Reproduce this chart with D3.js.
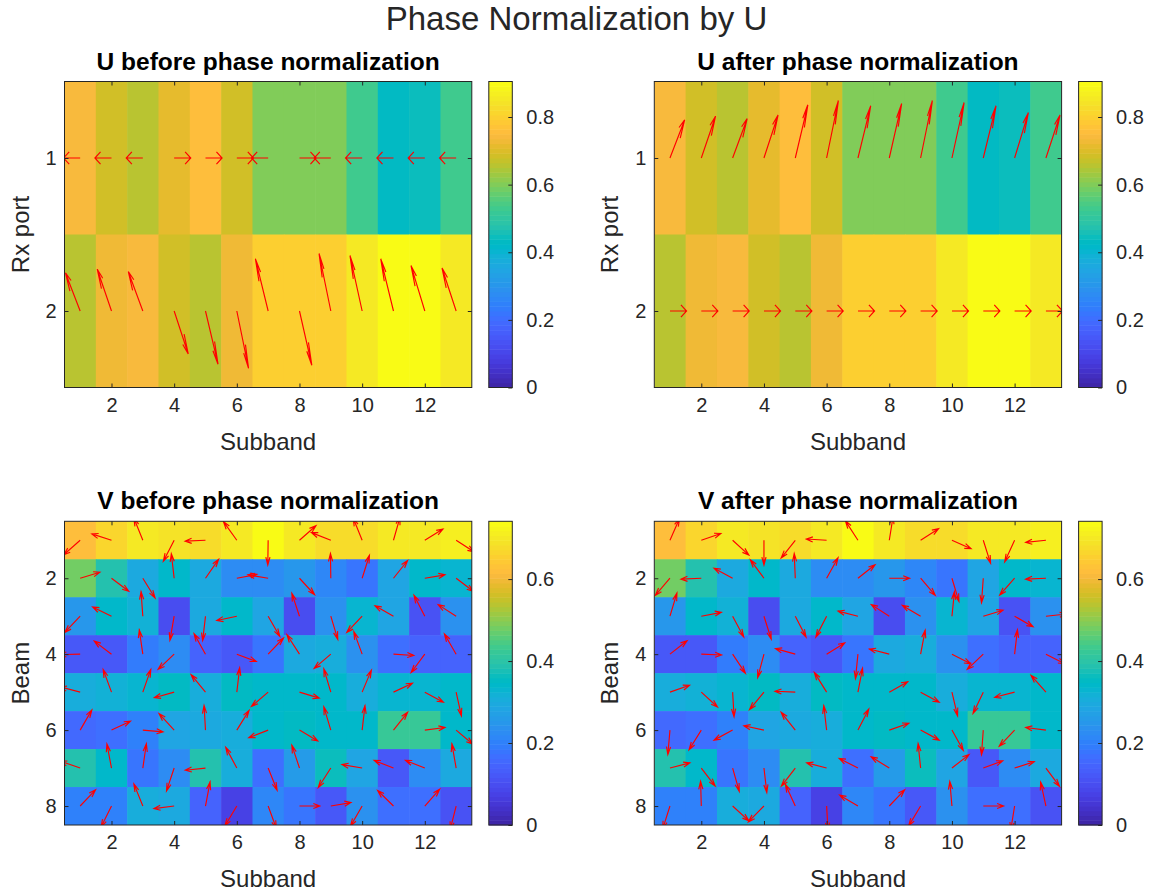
<!DOCTYPE html>
<html><head><meta charset="utf-8">
<script src="https://cdn.jsdelivr.net/npm/d3@7"></script>
<style>body{margin:0;background:#fff;} svg{display:block;font-family:"Liberation Sans",Arial,Helvetica,sans-serif;}</style>
</head><body><svg id="fig" width="1153" height="894"></svg>
<script>
// ---------------- data ----------------
const subbands = [1,2,3,4,5,6,7,8,9,10,11,12,13];
const xTickValues = [2,4,6,8,10,12];
const rxPorts = [1,2];
const beams = [1,2,3,4,5,6,7,8];
const uYTickValues = [1,2];
const vYTickValues = [2,4,6,8];
const uColorbarTicks = [0,0.2,0.4,0.6,0.8];
const vColorbarTicks = [0,0.2,0.4,0.6];

// |U| per Rx port (rows) and subband (cols)
const uMagnitude = [
  [0.742,0.686,0.658,0.720,0.756,0.686,0.608,0.608,0.595,0.530,0.435,0.440,0.530],
  [0.658,0.728,0.742,0.686,0.655,0.725,0.800,0.800,0.800,0.850,0.905,0.905,0.855]
];
// |V| per beam (rows) and subband (cols)
const vMagnitude = [
  [0.620,0.670,0.695,0.690,0.678,0.700,0.741,0.700,0.677,0.675,0.700,0.700,0.710],
  [0.475,0.387,0.300,0.342,0.295,0.230,0.230,0.250,0.214,0.185,0.284,0.340,0.330],
  [0.250,0.342,0.318,0.100,0.300,0.342,0.280,0.100,0.240,0.335,0.280,0.110,0.237],
  [0.120,0.116,0.190,0.220,0.145,0.120,0.185,0.300,0.312,0.237,0.168,0.150,0.145],
  [0.307,0.324,0.335,0.353,0.312,0.353,0.347,0.342,0.342,0.312,0.335,0.335,0.342],
  [0.156,0.168,0.203,0.284,0.300,0.312,0.342,0.353,0.347,0.342,0.417,0.417,0.342],
  [0.388,0.342,0.180,0.231,0.393,0.307,0.168,0.260,0.359,0.284,0.116,0.226,0.295],
  [0.197,0.197,0.307,0.300,0.150,0.070,0.214,0.180,0.116,0.243,0.168,0.168,0.110]
];
// phase angles (degrees, counter-clockwise as seen on screen)
const uPhaseBefore = [
  [180,180,180,0,0,0,180,0,180,180,180,180,180],
  [152,149,151,-32,-41,-45,140,-42,135,137,140,146,148]
];
const uPhaseAfter = [
  [28,31,29,32,41,45,40,42,45,43,40,34,32],
  [0,0,0,0,0,0,0,0,0,0,0,0,0]
];
const vPhaseBefore = [
  [-144,165,116,-122,182,131,-91,36,162,116,71,27,-28],
  [14,-32,-53,98,50,9,172,-42,91,69,46,8,-32],
  [-139,158,95,-102,-98,-170,-55,112,-70,-139,155,122,152],
  [181,148,100,-142,124,-17,41,128,-145,114,-3,-132,125],
  [168,114,67,-167,135,82,-145,-14,110,63,21,-24,-75],
  [55,21,-4,138,94,53,-162,-26,110,82,46,6,-35],
  [164,103,80,-112,-175,123,-64,112,-128,172,162,162,102],
  [41,-121,116,-174,77,-126,-66,0,8,-125,141,43,-107]
];
const vPhaseAfter = [
  [62,16,-37,-90,-134,177,128,79,28,-20,-69,-119,-175],
  [-136,-178,156,132,93,56,33,0,-44,-70,-95,-137,-178],
  [70,9,-57,-69,-58,-122,168,152,154,83,14,-25,5],
  [33,-2,-51,-108,167,27,-97,168,77,-23,-142,82,-23],
  [16,-37,-86,-135,178,127,77,25,-24,-74,-120,-168,137],
  [-96,-127,-156,170,134,98,58,16,-24,-56,-95,-139,174],
  [12,-47,-71,-82,-133,168,157,153,97,33,17,15,-48],
  [-111,92,-37,-140,119,-86,154,41,-126,96,0,-101,105]
];

// parula colormap (64 entries)
const PARULA = [[0.2422,0.1504,0.6603],[0.2504,0.1650,0.7076],[0.2578,0.1818,0.7511],[0.2647,0.1978,0.7952],[0.2706,0.2147,0.8364],[0.2751,0.2342,0.8710],[0.2783,0.2559,0.8991],[0.2803,0.2782,0.9221],[0.2813,0.3006,0.9414],[0.2810,0.3228,0.9579],[0.2795,0.3447,0.9717],[0.2760,0.3667,0.9829],[0.2699,0.3892,0.9906],[0.2602,0.4123,0.9952],[0.2440,0.4358,0.9988],[0.2206,0.4603,0.9973],[0.1963,0.4847,0.9892],[0.1834,0.5074,0.9798],[0.1786,0.5289,0.9682],[0.1764,0.5499,0.9520],[0.1687,0.5703,0.9359],[0.1540,0.5902,0.9218],[0.1460,0.6091,0.9079],[0.1380,0.6276,0.8973],[0.1248,0.6459,0.8883],[0.1113,0.6635,0.8763],[0.0952,0.6798,0.8598],[0.0689,0.6948,0.8394],[0.0297,0.7082,0.8163],[0.0036,0.7203,0.7917],[0.0067,0.7312,0.7660],[0.0433,0.7411,0.7394],[0.0964,0.7500,0.7120],[0.1408,0.7584,0.6842],[0.1717,0.7670,0.6554],[0.1938,0.7758,0.6251],[0.2161,0.7843,0.5923],[0.2470,0.7918,0.5567],[0.2906,0.7973,0.5188],[0.3406,0.8008,0.4789],[0.3909,0.8029,0.4354],[0.4456,0.8024,0.3909],[0.5044,0.7993,0.3480],[0.5616,0.7942,0.3045],[0.6174,0.7876,0.2612],[0.6720,0.7793,0.2227],[0.7242,0.7698,0.1910],[0.7738,0.7598,0.1646],[0.8203,0.7498,0.1535],[0.8634,0.7406,0.1596],[0.9035,0.7330,0.1774],[0.9393,0.7288,0.2100],[0.9728,0.7298,0.2394],[0.9956,0.7434,0.2371],[0.9970,0.7659,0.2199],[0.9952,0.7893,0.2028],[0.9892,0.8136,0.1885],[0.9786,0.8386,0.1766],[0.9676,0.8639,0.1643],[0.9610,0.8890,0.1537],[0.9597,0.9135,0.1423],[0.9628,0.9373,0.1265],[0.9691,0.9606,0.1064],[0.9769,0.9839,0.0805]];

// ---------------- drawing ----------------
const svg = d3.select("#fig");
const AX = "#262626";
const FS_TICK = 20, FS_LABEL = 24, FS_TITLE = 24.5, FS_SUP = 33;

function cmapColor(t){
  const i = Math.max(0, Math.min(63, Math.floor(t*64)));
  const c = PARULA[i];
  return d3.rgb(c[0]*255, c[1]*255, c[2]*255).formatHex();
}

const panels = [
  {title:"U before phase normalization", left:64.5, top:81.5, height:306, mags:uMagnitude, phases:uPhaseBefore, rows:rxPorts, yTicks:uYTickValues, ylabel:"Rx port", cTicks:uColorbarTicks, L:0.53, alpha:0.34, beta:0.22},
  {title:"U after phase normalization", left:654.3, top:81.5, height:306, mags:uMagnitude, phases:uPhaseAfter, rows:rxPorts, yTicks:uYTickValues, ylabel:"Rx port", cTicks:uColorbarTicks, L:0.53, alpha:0.34, beta:0.22},
  {title:"V before phase normalization", left:64.5, top:521.3, height:303.7, mags:vMagnitude, phases:vPhaseBefore, rows:beams, yTicks:vYTickValues, ylabel:"Beam", cTicks:vColorbarTicks, L:0.65, alpha:0.32, beta:0.32},
  {title:"V after phase normalization", left:654.3, top:521.3, height:303.7, mags:vMagnitude, phases:vPhaseAfter, rows:beams, yTicks:vYTickValues, ylabel:"Beam", cTicks:vColorbarTicks, L:0.65, alpha:0.32, beta:0.32}
];
const PW = 407.3;

svg.append("text").attr("x", 576.5).attr("y", 30).attr("text-anchor","middle")
  .attr("font-size", FS_SUP).attr("fill", AX).text("Phase Normalization by U");

panels.forEach((p, pi) => {
  const g = svg.append("g");
  const cmax = d3.max(p.mags.flat());
  const x = d3.scaleLinear().domain([0.5, subbands.length + 0.5]).range([p.left, p.left + PW]);
  const y = d3.scaleLinear().domain([0.5, p.rows.length + 0.5]).range([p.top, p.top + p.height]);
  const clipId = "clip" + pi;
  svg.append("defs").append("clipPath").attr("id", clipId).append("rect")
    .attr("x", p.left).attr("y", p.top).attr("width", PW).attr("height", p.height);

  const cells = p.mags.flatMap((row, ri) => row.map((v, ci) => ({r: p.rows[ri], c: subbands[ci], v, ph: p.phases[ri][ci]})));
  const plot = g.append("g").attr("clip-path", `url(#${clipId})`);
  plot.selectAll("rect.cell").data(cells).join("rect").attr("class","cell")
    .attr("x", d => x(d.c - 0.5)).attr("y", d => y(d.r - 0.5))
    .attr("width", d => x(d.c + 0.5) - x(d.c - 0.5) + 0.6)
    .attr("height", d => y(d.r + 0.5) - y(d.r - 0.5) + 0.6)
    .attr("fill", d => cmapColor(d.v / cmax));

  // quiver arrows (data units, MATLAB-style heads)
  const arrowPath = d => {
    const th = d.ph * Math.PI / 180;
    const u = p.L * Math.cos(th);
    const v = -p.L * Math.sin(th); // y axis reversed
    const tx = d.c + u, ty = d.r + v;
    const a = p.alpha, b = p.beta;
    const b1x = tx - a * (u + b * v), b1y = ty - a * (v - b * u);
    const b2x = tx - a * (u - b * v), b2y = ty - a * (v + b * u);
    return `M${x(d.c)},${y(d.r)}L${x(tx)},${y(ty)}M${x(b1x)},${y(b1y)}L${x(tx)},${y(ty)}L${x(b2x)},${y(b2y)}`;
  };
  plot.selectAll("path.arrow").data(cells).join("path").attr("class","arrow")
    .attr("d", arrowPath).attr("fill","none").attr("stroke","#ff0000").attr("stroke-width",1.15)
    .attr("stroke-linejoin","miter");

  // axes
  const styleAxis = sel => {
    sel.select(".domain").remove();
    sel.selectAll(".tick line").attr("stroke", AX);
    sel.selectAll(".tick text").attr("fill", AX).attr("font-size", FS_TICK).attr("font-family", null);
    sel.attr("font-family", null);
  };
  const intFmt = d3.format("d");
  const yb = p.top + p.height;
  g.append("g").attr("transform", `translate(0,${yb})`)
    .call(d3.axisBottom(x).tickValues(xTickValues).tickFormat(intFmt).tickSize(-4).tickPadding(10)).call(styleAxis);
  g.append("g").attr("transform", `translate(0,${p.top})`)
    .call(d3.axisTop(x).tickValues(xTickValues).tickSize(-4).tickFormat("")).call(styleAxis);
  g.append("g").attr("transform", `translate(${p.left},0)`)
    .call(d3.axisLeft(y).tickValues(p.yTicks).tickFormat(intFmt).tickSize(-4).tickPadding(8)).call(styleAxis);
  g.append("g").attr("transform", `translate(${p.left + PW},0)`)
    .call(d3.axisRight(y).tickValues(p.yTicks).tickSize(-4).tickFormat("")).call(styleAxis);
  g.append("rect").attr("x", p.left).attr("y", p.top).attr("width", PW).attr("height", p.height)
    .attr("fill","none").attr("stroke", AX).attr("stroke-width", 1);

  g.append("text").attr("x", p.left + PW / 2).attr("y", yb + 62).attr("text-anchor","middle")
    .attr("font-size", FS_LABEL).attr("fill", AX).text("Subband");
  g.append("text").attr("transform", `translate(${p.left - 36},${p.top + p.height / 2}) rotate(-90)`)
    .attr("text-anchor","middle").attr("font-size", FS_LABEL).attr("fill", AX).text(p.ylabel);
  g.append("text").attr("x", p.left + PW / 2).attr("y", p.top - 12).attr("text-anchor","middle")
    .attr("font-size", FS_TITLE).attr("font-weight","bold").attr("fill","#000").text(p.title);

  // colorbar
  const cbx = p.left + PW + 17, cbw = 23.5;
  const cy = d3.scaleLinear().domain([0, cmax]).range([yb, p.top]);
  const bands = d3.range(64);
  g.selectAll("rect.cb").data(bands).join("rect").attr("class","cb")
    .attr("x", cbx).attr("width", cbw)
    .attr("y", i => cy(cmax * (i + 1) / 64)).attr("height", i => cy(cmax * i / 64) - cy(cmax * (i + 1) / 64) + 0.5)
    .attr("fill", i => d3.rgb(PARULA[i][0]*255, PARULA[i][1]*255, PARULA[i][2]*255).formatHex());
  g.append("g").attr("transform", `translate(${cbx + cbw},0)`)
    .call(d3.axisRight(cy).tickValues(p.cTicks).tickFormat(d3.format("")).tickSize(-4).tickPadding(14)).call(styleAxis);
  g.append("rect").attr("x", cbx).attr("y", p.top).attr("width", cbw).attr("height", p.height)
    .attr("fill","none").attr("stroke", AX).attr("stroke-width", 1);
});
</script></body></html>
